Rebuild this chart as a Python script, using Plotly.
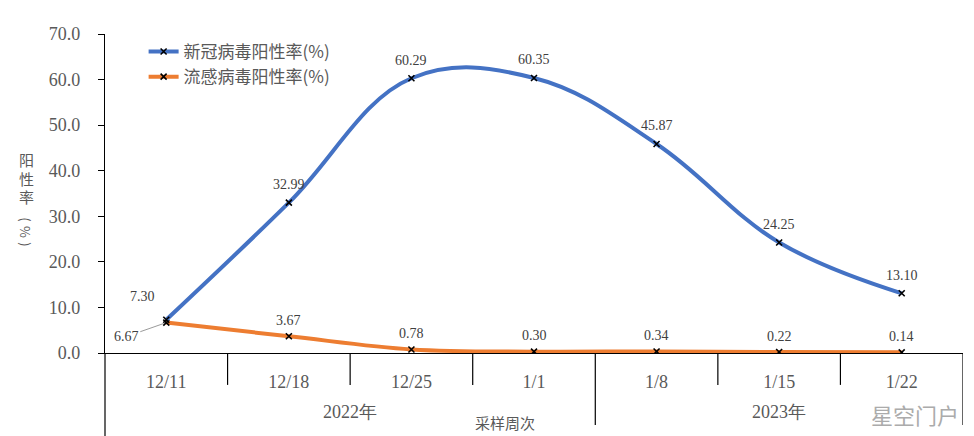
import plotly.graph_objects as go

weeks = ["12/11", "12/18", "12/25", "1/1", "1/8", "1/15", "1/22"]
years = ["2022年", "2023年"]
year_counts = [4, 3]
covid = [7.30, 32.99, 60.29, 60.35, 45.87, 24.25, 13.10]
flu = [6.67, 3.67, 0.78, 0.30, 0.34, 0.22, 0.14]
covid_name = "新冠病毒阳性率(%)"
flu_name = "流感病毒阳性率(%)"
y_title_chars = ["阳", "性", "率", "(", "%", ")"]

BLUE = "#4472C4"
ORANGE = "#ED7D31"
GRAY = "#595959"
SERIF = "Liberation Serif"
SANS = "Noto Sans CJK SC"

fig = go.Figure()
fig.add_trace(go.Scatter(
    x=weeks, y=flu, name=flu_name, mode="lines+markers",
    line=dict(color=ORANGE, width=4, shape="spline", smoothing=1.0),
    marker=dict(symbol="x-thin", size=6, line=dict(color="black", width=1.6), color="black"),
))
fig.add_trace(go.Scatter(
    x=weeks, y=covid, name=covid_name, mode="lines+markers",
    line=dict(color=BLUE, width=4, shape="spline", smoothing=1.1),
    marker=dict(symbol="x-thin", size=6, line=dict(color="black", width=1.6), color="black"),
))

LABEL_FONT = dict(family=SERIF, size=14, color="#404040")
annotations = []
for i, (w, v) in enumerate(zip(weeks, covid)):
    if i == 0:
        xs, ys = -24, 23
    else:
        xs, ys = 0, 18
    annotations.append(dict(x=w, y=v, text=f"{v:.2f}", showarrow=False,
                            xshift=xs, yshift=ys, font=LABEL_FONT))
for i, (w, v) in enumerate(zip(weeks, flu)):
    if i == 0:
        annotations.append(dict(x=w, y=v, text=f"{v:.2f}", showarrow=True,
                                arrowhead=0, arrowwidth=0.8, arrowcolor="#808080",
                                ax=-40, ay=14, standoff=3, font=LABEL_FONT))
    else:
        annotations.append(dict(x=w, y=v, text=f"{v:.2f}", showarrow=False,
                                yshift=16, font=LABEL_FONT))

# year group labels
start = 0
group_bounds = []
for yname, cnt in zip(years, year_counts):
    center = start + (cnt - 1) / 2
    annotations.append(dict(x=center, y=-0.185, yref="paper", xref="x", text=yname,
                            showarrow=False, yanchor="middle",
                            font=dict(family=SERIF, size=18, color=GRAY)))
    start += cnt
    group_bounds.append(start - 0.5)

annotations.append(dict(x=0.466, y=-0.219, xref="paper", yref="paper", text="采样周次",
                        showarrow=False, yanchor="middle", xanchor="center",
                        font=dict(family=SANS, size=15, color=GRAY)))

# vertical y-axis title, one character per row
title_top = 0.606
title_steps = [0, 0.058, 0.116, 0.187, 0.227, 0.265]
for ch, dy in zip(y_title_chars, title_steps):
    upright = ch not in "(%)"
    annotations.append(dict(x=-0.092, y=title_top - dy, xref="paper", yref="paper",
                            text=ch, showarrow=False, yanchor="middle", xanchor="center",
                            textangle=0 if upright else 90,
                            font=dict(family=SANS, size=15 if upright else 13,
                                      color=GRAY)))

annotations.append(dict(x=0.944, y=-0.192, xref="paper", yref="paper", text="星空门户",
                        showarrow=False, yanchor="middle", xanchor="center",
                        font=dict(family=SANS, size=22, color="#ababab")))

shapes = []
for i in range(len(weeks) - 1):
    b = i + 0.5
    length = -0.226 if b in group_bounds else -0.1
    shapes.append(dict(type="line", xref="x", yref="paper", x0=b, x1=b, y0=0, y1=length,
                       line=dict(color="black", width=1.2)))
shapes.append(dict(type="line", xref="x", yref="paper", x0=len(weeks) - 0.5, x1=len(weeks) - 0.5,
                   y0=0, y1=-0.226, line=dict(color="black", width=1.2)))
shapes.append(dict(type="line", xref="paper", yref="paper", x0=0, x1=0,
                   y0=0, y1=-0.27, line=dict(color="black", width=1.2)))

fig.update_layout(
    width=966, height=428,
    margin=dict(l=97, r=11, t=26, b=83),
    plot_bgcolor="white", paper_bgcolor="white",
    showlegend=True,
    legend=dict(x=0.045, y=1.0, xanchor="left", yanchor="top",
                traceorder="reversed", bgcolor="rgba(0,0,0,0)",
                font=dict(family=SANS, size=17, color=GRAY),
                itemwidth=30, tracegroupgap=0),
    xaxis=dict(type="category", range=[-0.5, len(weeks) - 0.5], showline=True,
               linecolor="black", linewidth=1.2, ticks="", showgrid=False,
               tickfont=dict(family=SERIF, size=18, color=GRAY),
               ticklabelstandoff=12),
    yaxis=dict(range=[0, 70], dtick=10, tickformat=".1f", showline=True,
               linecolor="black", linewidth=1.2, ticks="outside", ticklen=6,
               tickcolor="black", showgrid=False, zeroline=False,
               tickfont=dict(family=SERIF, size=18, color=GRAY), ticklabelstandoff=14),
    annotations=annotations,
    shapes=shapes,
)

fig.write_html("out.html")
